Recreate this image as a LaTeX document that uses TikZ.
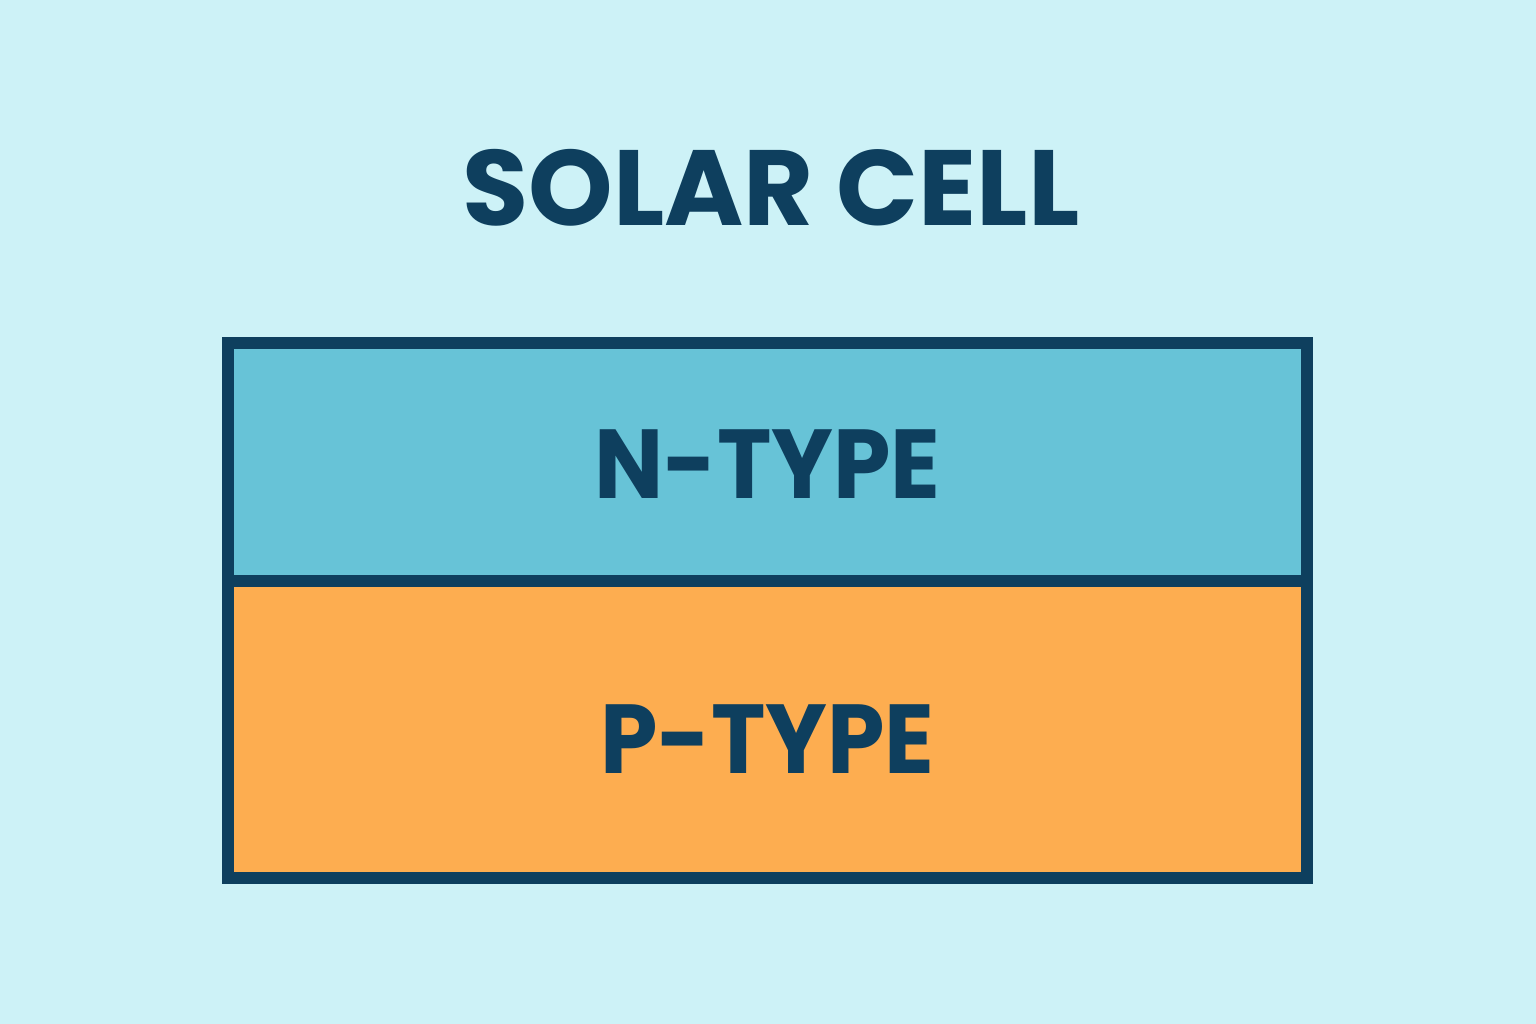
\documentclass[tikz,border=0pt]{standalone}
\usepackage{fontspec}
\setmainfont{Poppins}
\definecolor{bgc}{HTML}{CDF2F7}
\definecolor{ncol}{HTML}{67C3D7}
\definecolor{pcol}{HTML}{FDAD50}
\definecolor{dark}{HTML}{0E3F5E}
\begin{document}
\begin{tikzpicture}[x=1pt,y=-1pt,
  layer/.style={draw=dark,line width=12pt,minimum width=1079pt,inner sep=0pt,anchor=north west},
  lbl/.style={text=dark,font=\fontsize{98}{98}\selectfont\bfseries,inner sep=0pt,xscale=0.94}]
\fill[bgc] (0,0) rectangle (1536,1024);
\useasboundingbox (0,0) rectangle (1536,1024);
\node[layer,fill=ncol,minimum height=238pt] (n) at (222,337) {};
\node[layer,fill=pcol,minimum height=297pt] (p) at (222,575) {};
\node[lbl,xscale=1.07,font=\fontsize{107}{107}\selectfont\bfseries] (title) at (771,188) {SOLAR CELL};
\node[lbl] (nt) at ([yshift=-2pt]n.center) {N-TYPE};
\node[lbl] (pt) at ([yshift=-10pt]p.center) {P-TYPE};
\end{tikzpicture}
\end{document}
